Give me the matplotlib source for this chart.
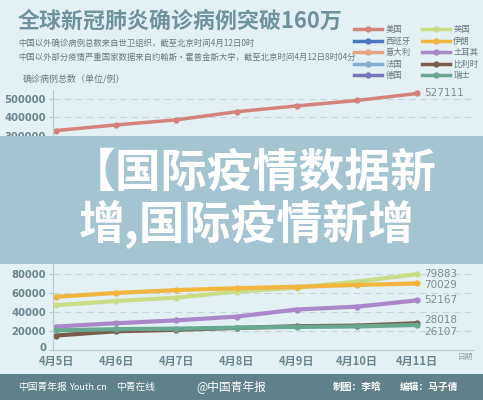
import matplotlib
matplotlib.use("Agg")
import matplotlib.pyplot as plt
import matplotlib.transforms as mtransforms
from matplotlib.patches import Rectangle
from matplotlib.lines import Line2D

plt.rcParams['font.family'] = ['Noto Sans CJK SC', 'DejaVu Sans']

# ---- data ----
dates = ['4月5日', '4月6日', '4月7日', '4月8日', '4月9日', '4月10日', '4月11日']

# upper panel (mostly hidden under the banner except the US)
us = [330000, 360000, 387000, 430000, 461000, 490000, 527111]
spain = [131000, 136000, 142000, 148000, 153000, 158000, 163000]
italy = [129000, 132500, 135500, 139500, 143500, 147500, 152000]
france = [93000, 99000, 110000, 114000, 119000, 126000, 131000]
germany = [100000, 103000, 107500, 113000, 118000, 122000, 125000]

# lower panel
uk = [47000, 51500, 55000, 61500, 65500, 72000, 79883]
iran = [56000, 60000, 63000, 65000, 66500, 68500, 70029]
turkey = [24500, 28000, 31000, 35000, 42500, 45500, 52167]
belgium = [15000, 19500, 21000, 23000, 24800, 25500, 28018]
swiss = [20500, 21700, 22300, 23300, 24100, 24600, 26107]

upper_names = ['美国', '西班牙', '意大利', '法国', '德国']
upper_series = [us, spain, italy, france, germany]
upper_colors = ['#d4827c', '#4a78c0', '#e8a584', '#86acd2', '#7476b8']

lower_names = ['英国', '伊朗', '土耳其', '比利时', '瑞士']
lower_series = [uk, iran, turkey, belgium, swiss]
lower_colors = ['#c9dc86', '#f0b63e', '#a987c9', '#7a5c4c', '#68a890']
lower_label_dy = [0, -2, 0, 3, -7]   # px shift of end labels to avoid overlap

bg = '#e3f0f4'
tick_col = '#6b858e'
grid_col = '#c4d6dc'

fig = plt.figure(figsize=(4.83, 4.0), dpi=100, facecolor=bg)
x = list(range(len(dates)))


def style_axes(ax, ymax, ticks):
    ax.set_facecolor('none')
    ax.set_xlim(-0.05, 6.93)
    ax.set_ylim(0, ymax)
    ax.set_yticks(ticks)
    labels = ax.set_yticklabels([str(t) for t in ticks], fontsize=7.2, fontweight='bold',
                                color=tick_col, family='DejaVu Sans')
    for t in ticks[1:]:
        ax.axhline(t, color=grid_col, lw=0.8, ls=(0, (6, 4)), zorder=0)
    for s in ['top', 'right']:
        ax.spines[s].set_visible(False)
    ax.spines['left'].set_color('#b7cbd1')
    ax.spines['bottom'].set_color('#b7cbd1')
    ax.tick_params(axis='y', length=3, width=0.8, color='#b7cbd1', pad=2)
    ax.tick_params(axis='x', length=0)
    return labels


# upper panel
ax1 = fig.add_axes([53 / 483, 1 - 192.6 / 400, 420 / 483, 102.6 / 400])
style_axes(ax1, 545700, [0, 100000, 200000, 300000, 400000, 500000])
ax1.set_xticks([])
handles = {}
for name, vals, c in zip(upper_names, upper_series, upper_colors):
    h, = ax1.plot(x, vals, color=c, lw=2.5, marker='o', ms=3.5, label=name,
                  solid_capstyle='round')
    handles[name] = h
ax1.annotate(f'{us[-1]}', (x[-1], us[-1]), xytext=(5, 0), textcoords='offset points',
             va='center', ha='left', fontsize=7.5, color='#7d8d93',
             family='DejaVu Sans')

# lower panel
ax2 = fig.add_axes([53 / 483, 1 - 349.7 / 400, 420 / 483, 87 / 400])
ylabels = style_axes(ax2, 92000, [0, 20000, 40000, 60000, 80000])
# the "0" label sits a little above the axis line in the original
zero = ylabels[0]
zero.set_transform(zero.get_transform() +
                   mtransforms.ScaledTranslation(0, 2.5 / 100, fig.dpi_scale_trans))
ax2.set_xticks(x)
ax2.set_xticklabels(dates, fontsize=8, fontweight='bold', color=tick_col)
ax2.tick_params(axis='x', pad=3.5)
for name, vals, c, dy in zip(lower_names, lower_series, lower_colors, lower_label_dy):
    h, = ax2.plot(x, vals, color=c, lw=3, marker='o', ms=3.5, label=name,
                  solid_capstyle='round')
    handles[name] = h
    ax2.annotate(f'{vals[-1]}', (x[-1], vals[-1]), xytext=(5, dy * 0.72),
                 textcoords='offset points', va='center', ha='left',
                 fontsize=7.5, color='#7d8d93', family='DejaVu Sans')
fig.text(465 / 483, 1 - 357 / 400, '日期', fontsize=5.5, color='#8a9ca2',
         ha='center', va='center')

# legend, two columns filled row by row like the original
order = ['美国', '西班牙', '意大利', '法国', '德国', '英国', '伊朗', '土耳其', '比利时', '瑞士']
leg_handles = [Line2D([], [], color=handles[n].get_color(), lw=2.5, marker='o', ms=3.5)
               for n in order]
fig.legend(leg_handles, order, loc='upper left', bbox_to_anchor=(354 / 483, 1 - 25 / 400),
           ncol=2, frameon=False, fontsize=6, handlelength=3.4, handletextpad=0.4,
           columnspacing=1.3, labelspacing=0.3, borderpad=0, borderaxespad=0,
           labelcolor='#6a7a80')

# title and notes
fig.text(18 / 483, 1 - 21.5 / 400, '全球新冠肺炎确诊病例突破160万', fontsize=15.8,
         fontweight='bold', color='#6f939d', ha='left', va='center')
fig.text(18 / 483, 1 - 43.5 / 400, '中国以外确诊病例总数来自世卫组织，截至北京时间4月12日0时',
         fontsize=6, color='#6a7a80', ha='left', va='center')
fig.text(18 / 483, 1 - 57.5 / 400,
         '中国以外部分疫情严重国家数据来自约翰斯·霍普金斯大学，截至北京时间4月12日8时04分',
         fontsize=6, color='#6a7a80', ha='left', va='center')
fig.text(23 / 483, 1 - 78.5 / 400, '确诊病例总数（单位/例）', fontsize=6.5,
         color='#6a7a80', ha='left', va='center')

# banner over the middle
fig.add_artist(Rectangle((0, 1 - 264 / 400), 1, 128 / 400, transform=fig.transFigure,
                         facecolor='#a4c4d2', edgecolor='none', zorder=5))
fig.text(0.525, 1 - 174 / 400, '【国际疫情数据新', fontsize=33, fontweight='heavy',
         color='white', ha='center', va='center', zorder=6)
fig.text(0.51, 1 - 225 / 400, '增,国际疫情新增', fontsize=33, fontweight='heavy',
         color='white', ha='center', va='center', zorder=6)

# footer
fig.add_artist(Rectangle((0, 0), 1, 26 / 400, transform=fig.transFigure,
                         facecolor='#5f8189', edgecolor='none', zorder=5))
fy = 13 / 400
fig.text(18 / 483, fy, '中国青年报', fontsize=7, color='white', va='center', zorder=6)
fig.text(70 / 483, fy, 'Youth.cn', fontsize=6.5, color='white', va='center', zorder=6)
fig.text(116 / 483, fy, '中青在线', fontsize=7, color='white', va='center', zorder=6)
fig.text(196 / 483, fy, '@中国青年报', fontsize=8.5, color='white', va='center', zorder=6)
fig.text(333 / 483, fy, '制图：李晗', fontsize=7, fontweight='bold', color='white',
         va='center', zorder=6)
fig.text(400 / 483, fy, '编辑：马子倩', fontsize=7, fontweight='bold', color='white',
         va='center', zorder=6)

fig.savefig('out.png', dpi=100, facecolor=bg)
